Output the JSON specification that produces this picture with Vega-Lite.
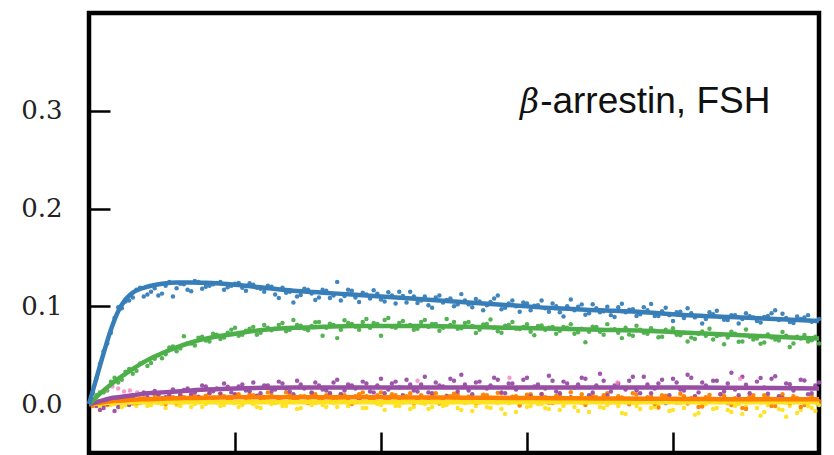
{
  "$schema": "https://vega.github.io/schema/vega-lite/v6.json",
  "autosize": {"type": "none"},
  "width": 730,
  "height": 440,
  "padding": {"left": 89, "top": 13, "right": 15, "bottom": 2},
  "background": "white",
  "config": {
    "view": {"stroke": "black", "strokeWidth": 4.5},
    "axis": {"grid": false, "domain": false, "tickColor": "black", "tickWidth": 2.5, "tickSize": -21, "title": null}
  },
  "datasets": {
    "pts": [
      {"t":0.5,"b":0.026,"g":0.009,"p":-0.002,"o":0.002,"y":-0.001},
      {"t":1,"b":0.054,"g":0.012,"p":-0.004,"o":-0.001,"y":0.002},
      {"t":1.5,"b":0.073,"g":0.023,"p":0.003,"o":0.005,"y":-0.001},
      {"t":2,"b":0.099,"g":0.022,"p":-0.003,"o":0.0015,"y":0.002},
      {"t":2.5,"b":0.105,"g":0.033,"p":0.003,"o":0.007,"y":-0.001},
      {"t":3,"b":0.109,"g":0.031,"p":0.007,"o":0.0005,"y":0.004},
      {"t":3.5,"b":0.119,"g":0.0415,"p":0.002,"o":0.0057,"y":0.001},
      {"t":4,"b":0.112,"g":0.039,"p":0.007,"o":0.003,"y":-0.002},
      {"t":4.5,"b":0.1185,"g":0.0465,"p":0.0135,"o":0.0092,"y":0.003},
      {"t":5,"b":0.113,"g":0.047,"p":0.006,"o":0.0025,"y":0.0},
      {"t":5.5,"b":0.125,"g":0.058,"p":0.0095,"o":0.0077,"y":0.005},
      {"t":6,"b":0.1185,"g":0.054,"p":0.004,"o":0.001,"y":-0.001},
      {"t":6.5,"b":0.1225,"g":0.0695,"p":0.0145,"o":0.0071,"y":0.002},
      {"t":7,"b":0.1155,"g":0.062,"p":0.010,"o":0.0092,"y":-0.003},
      {"t":7.5,"b":0.125,"g":0.068,"p":0.0075,"o":0.0023,"y":0.004},
      {"t":8,"b":0.120,"g":0.065,"p":0.018,"o":0.0085,"y":0.0},
      {"t":8.5,"b":0.1225,"g":0.072,"p":0.0132,"o":0.0056,"y":0.003},
      {"t":9,"b":0.125,"g":0.0665,"p":0.0105,"o":0.0107,"y":-0.002},
      {"t":9.5,"b":0.1195,"g":0.073,"p":0.0177,"o":0.0038,"y":0.004},
      {"t":10,"b":0.123,"g":0.078,"p":0.010,"o":0.009,"y":0.001},
      {"t":10.5,"b":0.119,"g":0.071,"p":0.0201,"o":0.002,"y":-0.001},
      {"t":11,"b":0.1235,"g":0.077,"p":0.0132,"o":0.010,"y":0.004},
      {"t":11.5,"b":0.119,"g":0.071,"p":0.0085,"o":0.008,"y":-0.003},
      {"t":12,"b":0.115,"g":0.081,"p":0.019,"o":0.003,"y":0.003},
      {"t":12.5,"b":0.120,"g":0.0755,"p":0.013,"o":0.009,"y":0.0},
      {"t":13,"b":0.1085,"g":0.081,"p":0.023,"o":0.005,"y":0.005},
      {"t":13.5,"b":0.114,"g":0.0745,"p":0.016,"o":0.012,"y":-0.002},
      {"t":14,"b":0.104,"g":0.086,"p":0.010,"o":0.004,"y":0.002},
      {"t":14.5,"b":0.1115,"g":0.0802,"p":0.020,"o":0.008,"y":-0.004},
      {"t":15,"b":0.117,"g":0.0755,"p":0.007,"o":0.001,"y":0.004},
      {"t":15.5,"b":0.1065,"g":0.0837,"p":0.022,"o":0.010,"y":0.001},
      {"t":16,"b":0.117,"g":0.070,"p":0.015,"o":0.006,"y":-0.001},
      {"t":16.5,"b":0.1085,"g":0.0822,"p":0.011,"o":0.011,"y":0.005},
      {"t":17,"b":0.125,"g":0.0675,"p":0.025,"o":0.003,"y":-0.003},
      {"t":17.5,"b":0.1105,"g":0.0857,"p":0.014,"o":0.009,"y":0.003},
      {"t":18,"b":0.116,"g":0.082,"p":0.019,"o":0.0,"y":0.0},
      {"t":18.5,"b":0.1045,"g":0.076,"p":0.005,"o":0.010,"y":0.006},
      {"t":19,"b":0.112,"g":0.087,"p":0.021,"o":0.008,"y":-0.004},
      {"t":19.5,"b":0.1165,"g":0.083,"p":0.012,"o":0.004,"y":0.002},
      {"t":20,"b":0.107,"g":0.070,"p":0.026,"o":0.012,"y":-0.001},
      {"t":20.5,"b":0.1145,"g":0.088,"p":0.015,"o":0.005,"y":0.004},
      {"t":21,"b":0.103,"g":0.078,"p":0.023,"o":0.009,"y":-0.002},
      {"t":21.5,"b":0.1105,"g":0.085,"p":0.009,"o":0.002,"y":0.003},
      {"t":22,"b":0.115,"g":0.081,"p":0.020,"o":0.011,"y":-0.005},
      {"t":22.5,"b":0.1035,"g":0.077,"p":0.013,"o":0.0058,"y":0.005},
      {"t":23,"b":0.110,"g":0.086,"p":0.028,"o":0.0028,"y":0.0},
      {"t":23.5,"b":0.0985,"g":0.082,"p":0.011,"o":0.0097,"y":-0.003},
      {"t":24,"b":0.111,"g":0.075,"p":0.019,"o":0.0007,"y":0.004},
      {"t":24.5,"b":0.1065,"g":0.087,"p":0.008,"o":0.0086,"y":-0.001},
      {"t":25,"b":0.100,"g":0.084,"p":0.024,"o":0.0106,"y":0.003},
      {"t":25.5,"b":0.1125,"g":0.0775,"p":0.030,"o":0.0035,"y":-0.006},
      {"t":26,"b":0.102,"g":0.084,"p":0.014,"o":0.0075,"y":0.004},
      {"t":26.5,"b":0.1075,"g":0.0728,"p":0.022,"o":0.0015,"y":-0.002},
      {"t":27,"b":0.096,"g":0.0815,"p":0.006,"o":0.0095,"y":0.005},
      {"t":27.5,"b":0.1045,"g":0.0865,"p":0.019,"o":0.0045,"y":-0.004},
      {"t":28,"b":0.111,"g":0.0745,"p":0.025,"o":0.0115,"y":0.001},
      {"t":28.5,"b":0.0985,"g":0.0802,"p":0.011,"o":0.0025,"y":-0.010},
      {"t":29,"b":0.106,"g":0.084,"p":0.021,"o":0.0075,"y":0.004},
      {"t":29.5,"b":0.0945,"g":0.0768,"p":0.003,"o":-0.0015,"y":-0.001},
      {"t":30,"b":0.103,"g":0.0817,"p":0.027,"o":0.0095,"y":-0.003},
      {"t":30.5,"b":0.1005,"g":0.0705,"p":0.018,"o":0.0043,"y":0.005},
      {"t":31,"b":0.106,"g":0.0803,"p":0.010,"o":0.0103,"y":0.0},
      {"t":31.5,"b":0.0945,"g":0.0781,"p":0.029,"o":0.0012,"y":-0.005},
      {"t":32,"b":0.100,"g":0.072,"p":0.013,"o":0.0082,"y":0.003},
      {"t":32.5,"b":0.0895,"g":0.0788,"p":0.023,"o":0.0031,"y":-0.002},
      {"t":33,"b":0.107,"g":0.0817,"p":0.007,"o":0.0121,"y":0.006},
      {"t":33.5,"b":0.0997,"g":0.0735,"p":0.020,"o":0.005,"y":-0.007},
      {"t":34,"b":0.0915,"g":0.0633,"p":0.026,"o":-0.001,"y":0.001},
      {"t":34.5,"b":0.1022,"g":0.0791,"p":0.012,"o":0.009,"y":0.004},
      {"t":35,"b":0.094,"g":0.074,"p":0.031,"o":0.004,"y":-0.003},
      {"t":35.5,"b":0.0995,"g":0.0818,"p":0.009,"o":0.011,"y":-0.001},
      {"t":36,"b":0.089,"g":0.0767,"p":0.019,"o":0.002,"y":0.005},
      {"t":36.5,"b":0.1027,"g":0.0675,"p":0.004,"o":0.0068,"y":-0.009},
      {"t":37,"b":0.0965,"g":0.0713,"p":0.024,"o":-0.0002,"y":0.002},
      {"t":37.5,"b":0.0902,"g":0.0801,"p":0.014,"o":0.0097,"y":-0.002},
      {"t":38,"b":0.099,"g":0.073,"p":0.028,"o":0.0027,"y":0.004},
      {"t":38.5,"b":0.1025,"g":0.0776,"p":0.011,"o":0.0076,"y":-0.004},
      {"t":39,"b":0.090,"g":0.0683,"p":0.021,"o":-0.0034,"y":0.0},
      {"t":39.5,"b":0.0985,"g":0.076,"p":0.001,"o":0.0085,"y":0.005},
      {"t":40,"b":0.085,"g":0.0777,"p":0.026,"o":0.0045,"y":-0.006},
      {"t":40.5,"b":0.0945,"g":0.0703,"p":0.015,"o":0.0105,"y":0.001},
      {"t":41,"b":0.098,"g":0.064,"p":0.030,"o":0.0005,"y":0.004},
      {"t":41.5,"b":0.0887,"g":0.0667,"p":0.008,"o":0.0075,"y":-0.011},
      {"t":42,"b":0.0825,"g":0.0743,"p":0.022,"o":-0.0025,"y":-0.002},
      {"t":42.5,"b":0.094,"g":0.077,"p":0.005,"o":0.0093,"y":0.003},
      {"t":43,"b":0.0955,"g":0.0697,"p":0.024,"o":0.0033,"y":-0.004},
      {"t":43.5,"b":0.0862,"g":0.0613,"p":0.013,"o":0.0082,"y":0.005},
      {"t":44,"b":0.091,"g":0.074,"p":0.032,"o":-0.001,"y":-0.008},
      {"t":44.5,"b":0.0825,"g":0.0637,"p":0.009,"o":0.006,"y":0.0},
      {"t":45,"b":0.093,"g":0.0763,"p":0.0198,"o":-0.005,"y":-0.003},
      {"t":45.5,"b":0.0887,"g":0.066,"p":0.0027,"o":0.009,"y":0.004},
      {"t":46,"b":0.0835,"g":0.0617,"p":0.0267,"o":0.002,"y":-0.012},
      {"t":46.5,"b":0.0902,"g":0.0713,"p":0.0106,"o":0.007,"y":-0.001},
      {"t":47,"b":0.096,"g":0.066,"p":0.0285,"o":-0.002,"y":0.003},
      {"t":47.5,"b":0.0925,"g":0.0737,"p":0.0064,"o":0.010,"y":-0.006},
      {"t":48,"b":0.084,"g":0.0583,"p":0.0203,"o":0.001,"y":-0.002},
      {"t":48.5,"b":0.0897,"g":0.069,"p":0.0032,"o":0.006,"y":-0.009},
      {"t":49,"b":0.0885,"g":0.0707,"p":0.0241,"o":-0.001,"y":0.004},
      {"t":49.5,"b":0.0842,"g":0.0653,"p":0.011,"o":0.008,"y":-0.004},
      {"t":50,"b":0.087,"g":0.062,"p":0.022,"o":0.003,"y":-0.001},
      {"t":0.25,"b":0.012,"g":0.004,"p":0.001,"o":-0.002,"y":0.0},
      {"t":0.75,"b":0.041,"g":0.012,"p":-0.006,"o":0.003,"y":-0.002},
      {"t":1.25,"b":0.062,"g":0.014,"p":0.0,"o":-0.001,"y":0.003},
      {"t":1.75,"b":0.088,"g":0.027,"p":-0.007,"o":0.006,"y":0.0},
      {"t":2.25,"b":0.098,"g":0.025,"p":0.005,"o":0.002,"y":-0.003},
      {"t":2.75,"b":0.106,"g":0.036,"p":-0.001,"o":0.008,"y":0.002},
      {"t":3.25,"b":0.117,"g":0.034,"p":0.004,"o":0.001,"y":-0.002},
      {"t":3.75,"b":0.110,"g":0.043,"p":0.012,"o":0.006,"y":0.003},
      {"t":4.25,"b":0.115,"g":0.042,"p":0.003,"o":0.004,"y":-0.001},
      {"t":4.75,"b":0.111,"g":0.050,"p":0.010,"o":0.009,"y":0.001},
      {"t":5.25,"b":0.121,"g":0.051,"p":0.007,"o":0.0,"y":-0.004},
      {"t":5.75,"b":0.110,"g":0.059,"p":0.015,"o":0.007,"y":0.002},
      {"t":6.25,"b":0.123,"g":0.057,"p":0.009,"o":0.010,"y":-0.002},
      {"t":6.75,"b":0.117,"g":0.062,"p":0.016,"o":0.003,"y":0.004},
      {"t":7.25,"b":0.126,"g":0.060,"p":0.012,"o":0.008,"y":0.0},
      {"t":7.75,"b":0.118,"g":0.069,"p":0.019,"o":0.005,"y":-0.003},
      {"t":8.25,"b":0.121,"g":0.064,"p":0.011,"o":0.011,"y":0.002},
      {"t":8.75,"b":0.124,"g":0.071,"p":0.016,"o":0.002,"y":0.005},
      {"t":9.25,"b":0.117,"g":0.068,"p":0.021,"o":0.008,"y":-0.001},
      {"t":9.75,"b":0.121,"g":0.076,"p":0.012,"o":0.006,"y":0.002},
      {"t":10.25,"b":0.124,"g":0.070,"p":0.018,"o":0.010,"y":-0.003},
      {"t":10.75,"b":0.116,"g":0.075,"p":0.014,"o":0.003,"y":0.003},
      {"t":11.25,"b":0.122,"g":0.079,"p":0.022,"o":0.009,"y":0.0},
      {"t":11.75,"b":0.118,"g":0.073,"p":0.011,"o":0.006,"y":-0.004},
      {"t":12.25,"b":0.121,"g":0.078,"p":0.019,"o":0.012,"y":0.004},
      {"t":12.75,"b":0.112,"g":0.077,"p":0.015,"o":0.002,"y":0.001},
      {"t":13.25,"b":0.119,"g":0.083,"p":0.021,"o":0.007,"y":-0.002},
      {"t":13.75,"b":0.115,"g":0.076,"p":0.013,"o":0.010,"y":0.003},
      {"t":14.25,"b":0.110,"g":0.081,"p":0.024,"o":0.005,"y":-0.005},
      {"t":14.75,"b":0.118,"g":0.077,"p":0.016,"o":0.008,"y":0.002},
      {"t":15.25,"b":0.113,"g":0.080,"p":0.012,"o":0.011,"y":-0.001},
      {"t":15.75,"b":0.109,"g":0.084,"p":0.019,"o":0.003,"y":0.004},
      {"t":16.25,"b":0.116,"g":0.078,"p":0.014,"o":0.009,"y":-0.003},
      {"t":16.75,"b":0.111,"g":0.081,"p":0.022,"o":0.006,"y":0.001},
      {"t":17.25,"b":0.106,"g":0.076,"p":0.010,"o":0.010,"y":0.005},
      {"t":17.75,"b":0.117,"g":0.083,"p":0.020,"o":0.004,"y":-0.002},
      {"t":18.25,"b":0.109,"g":0.079,"p":0.016,"o":0.008,"y":0.002},
      {"t":18.75,"b":0.114,"g":0.084,"p":0.023,"o":0.012,"y":-0.004},
      {"t":19.25,"b":0.108,"g":0.078,"p":0.013,"o":0.005,"y":0.003},
      {"t":19.75,"b":0.113,"g":0.082,"p":0.019,"o":0.009,"y":0.0},
      {"t":20.25,"b":0.105,"g":0.086,"p":0.011,"o":0.003,"y":-0.006},
      {"t":20.75,"b":0.111,"g":0.079,"p":0.021,"o":0.010,"y":0.002},
      {"t":21.25,"b":0.115,"g":0.083,"p":0.017,"o":0.006,"y":-0.002},
      {"t":21.75,"b":0.104,"g":0.080,"p":0.025,"o":0.008,"y":0.004},
      {"t":22.25,"b":0.110,"g":0.076,"p":0.014,"o":0.001,"y":-0.003},
      {"t":22.75,"b":0.106,"g":0.084,"p":0.020,"o":0.009,"y":0.001},
      {"t":23.25,"b":0.101,"g":0.079,"p":0.012,"o":0.006,"y":-0.005},
      {"t":23.75,"b":0.109,"g":0.082,"p":0.022,"o":0.011,"y":0.003},
      {"t":24.25,"b":0.104,"g":0.078,"p":0.018,"o":0.004,"y":-0.002},
      {"t":24.75,"b":0.108,"g":0.081,"p":0.026,"o":0.008,"y":0.002},
      {"t":25.25,"b":0.102,"g":0.077,"p":0.013,"o":0.010,"y":-0.004},
      {"t":25.75,"b":0.106,"g":0.083,"p":0.020,"o":0.005,"y":0.001},
      {"t":26.25,"b":0.099,"g":0.080,"p":0.010,"o":0.007,"y":-0.007},
      {"t":26.75,"b":0.105,"g":0.076,"p":0.023,"o":0.002,"y":0.003},
      {"t":27.25,"b":0.101,"g":0.082,"p":0.016,"o":0.009,"y":-0.003},
      {"t":27.75,"b":0.108,"g":0.078,"p":0.027,"o":0.006,"y":0.002},
      {"t":28.25,"b":0.097,"g":0.073,"p":0.012,"o":0.011,"y":-0.005},
      {"t":28.75,"b":0.103,"g":0.081,"p":0.021,"o":0.004,"y":0.001},
      {"t":29.25,"b":0.100,"g":0.077,"p":0.015,"o":0.008,"y":-0.008},
      {"t":29.75,"b":0.104,"g":0.079,"p":0.025,"o":0.003,"y":0.003},
      {"t":30.25,"b":0.096,"g":0.074,"p":0.008,"o":0.010,"y":-0.002},
      {"t":30.75,"b":0.101,"g":0.080,"p":0.020,"o":0.005,"y":0.0},
      {"t":31.25,"b":0.098,"g":0.076,"p":0.016,"o":0.007,"y":-0.004},
      {"t":31.75,"b":0.103,"g":0.079,"p":0.024,"o":0.001,"y":0.004},
      {"t":32.25,"b":0.094,"g":0.075,"p":0.011,"o":0.009,"y":-0.006},
      {"t":32.75,"b":0.100,"g":0.078,"p":0.021,"o":0.006,"y":0.002},
      {"t":33.25,"b":0.096,"g":0.072,"p":0.017,"o":0.004,"y":-0.003},
      {"t":33.75,"b":0.102,"g":0.077,"p":0.027,"o":0.010,"y":0.001},
      {"t":34.25,"b":0.093,"g":0.074,"p":0.009,"o":0.003,"y":-0.008},
      {"t":34.75,"b":0.098,"g":0.079,"p":0.019,"o":0.007,"y":0.002},
      {"t":35.25,"b":0.095,"g":0.071,"p":0.024,"o":0.009,"y":-0.004},
      {"t":35.75,"b":0.091,"g":0.076,"p":0.013,"o":0.002,"y":0.003},
      {"t":36.25,"b":0.099,"g":0.073,"p":0.021,"o":0.008,"y":-0.002},
      {"t":36.75,"b":0.094,"g":0.078,"p":0.015,"o":0.005,"y":-0.010},
      {"t":37.25,"b":0.097,"g":0.070,"p":0.028,"o":0.011,"y":0.001},
      {"t":37.75,"b":0.092,"g":0.076,"p":0.011,"o":0.003,"y":-0.005},
      {"t":38.25,"b":0.096,"g":0.072,"p":0.020,"o":0.007,"y":0.003},
      {"t":38.75,"b":0.090,"g":0.075,"p":0.016,"o":0.0,"y":-0.003},
      {"t":39.25,"b":0.095,"g":0.069,"p":0.025,"o":0.009,"y":0.002},
      {"t":39.75,"b":0.091,"g":0.074,"p":0.009,"o":0.005,"y":-0.007},
      {"t":40.25,"b":0.094,"g":0.071,"p":0.022,"o":0.002,"y":0.001},
      {"t":40.75,"b":0.088,"g":0.073,"p":0.014,"o":0.008,"y":-0.004},
      {"t":41.25,"b":0.093,"g":0.068,"p":0.027,"o":0.006,"y":0.003},
      {"t":41.75,"b":0.090,"g":0.072,"p":0.012,"o":-0.003,"y":-0.009},
      {"t":42.25,"b":0.087,"g":0.070,"p":0.019,"o":0.007,"y":0.0},
      {"t":42.75,"b":0.092,"g":0.066,"p":0.024,"o":0.004,"y":-0.005},
      {"t":43.25,"b":0.089,"g":0.071,"p":0.010,"o":0.010,"y":0.002},
      {"t":43.75,"b":0.086,"g":0.068,"p":0.021,"o":0.001,"y":-0.006},
      {"t":44.25,"b":0.091,"g":0.072,"p":0.015,"o":0.006,"y":-0.002},
      {"t":44.75,"b":0.087,"g":0.064,"p":0.028,"o":-0.004,"y":-0.010},
      {"t":45.25,"b":0.090,"g":0.069,"p":0.011,"o":0.008,"y":0.002},
      {"t":45.75,"b":0.085,"g":0.067,"p":0.023,"o":0.003,"y":-0.004},
      {"t":46.25,"b":0.089,"g":0.063,"p":0.017,"o":0.009,"y":-0.008},
      {"t":46.75,"b":0.093,"g":0.068,"p":0.026,"o":-0.002,"y":0.001},
      {"t":47.25,"b":0.086,"g":0.065,"p":0.008,"o":0.006,"y":-0.005},
      {"t":47.75,"b":0.088,"g":0.070,"p":0.021,"o":0.002,"y":-0.013},
      {"t":48.25,"b":0.083,"g":0.062,"p":0.014,"o":0.008,"y":0.002},
      {"t":48.75,"b":0.087,"g":0.067,"p":0.025,"o":-0.003,"y":-0.006},
      {"t":49.25,"b":0.091,"g":0.064,"p":0.010,"o":0.005,"y":-0.002},
      {"t":49.75,"b":0.085,"g":0.069,"p":0.019,"o":0.002,"y":-0.007}
    ],
    "pink": [
      {"t":1.2,"v":0.015},{"t":1.6,"v":0.018},{"t":2.0,"v":0.016},{"t":2.4,"v":0.013},{"t":2.8,"v":0.014},{"t":3.3,"v":0.012},
      {"t":22.5,"v":0.024},{"t":28.8,"v":0.027},{"t":36.2,"v":0.022},{"t":44.6,"v":0.026}
    ],
    "fit": [
      {"t":0,"b":0,"g":0,"p":0,"o":0,"y":0},
      {"t":0.5,"b":0.026,"g":0.007,"p":0.002,"o":0.001,"y":0.0005},
      {"t":1,"b":0.052,"g":0.014,"p":0.004,"o":0.002,"y":0.001},
      {"t":1.5,"b":0.076,"g":0.020,"p":0.006,"o":0.003,"y":0.0013},
      {"t":2,"b":0.095,"g":0.026,"p":0.007,"o":0.0035,"y":0.0015},
      {"t":2.5,"b":0.107,"g":0.031,"p":0.008,"o":0.004,"y":0.0017},
      {"t":3,"b":0.114,"g":0.036,"p":0.009,"o":0.0045,"y":0.0018},
      {"t":4,"b":0.120,"g":0.045,"p":0.011,"o":0.005,"y":0.002},
      {"t":5,"b":0.123,"g":0.052,"p":0.012,"o":0.0055,"y":0.002},
      {"t":6,"b":0.1245,"g":0.058,"p":0.013,"o":0.006,"y":0.002},
      {"t":7,"b":0.1245,"g":0.063,"p":0.014,"o":0.0062,"y":0.002},
      {"t":8,"b":0.124,"g":0.067,"p":0.015,"o":0.0065,"y":0.002},
      {"t":10,"b":0.122,"g":0.072,"p":0.016,"o":0.007,"y":0.002},
      {"t":12,"b":0.119,"g":0.076,"p":0.0167,"o":0.007,"y":0.002},
      {"t":14,"b":0.116,"g":0.078,"p":0.017,"o":0.007,"y":0.002},
      {"t":16,"b":0.114,"g":0.079,"p":0.017,"o":0.007,"y":0.002},
      {"t":18,"b":0.112,"g":0.080,"p":0.017,"o":0.007,"y":0.002},
      {"t":20,"b":0.110,"g":0.080,"p":0.017,"o":0.007,"y":0.002},
      {"t":23,"b":0.107,"g":0.080,"p":0.017,"o":0.0068,"y":0.002},
      {"t":26,"b":0.104,"g":0.079,"p":0.017,"o":0.0065,"y":0.002},
      {"t":29,"b":0.101,"g":0.078,"p":0.017,"o":0.0063,"y":0.002},
      {"t":32,"b":0.098,"g":0.077,"p":0.017,"o":0.006,"y":0.002},
      {"t":35,"b":0.096,"g":0.076,"p":0.017,"o":0.0058,"y":0.002},
      {"t":38,"b":0.094,"g":0.075,"p":0.017,"o":0.0055,"y":0.002},
      {"t":41,"b":0.091,"g":0.073,"p":0.017,"o":0.0053,"y":0.002},
      {"t":44,"b":0.089,"g":0.071,"p":0.0168,"o":0.005,"y":0.002},
      {"t":47,"b":0.087,"g":0.069,"p":0.0165,"o":0.005,"y":0.002},
      {"t":50,"b":0.085,"g":0.067,"p":0.016,"o":0.005,"y":0.002}
    ],
    "one": [{}]
  },
  "layer": [
    {
      "data": {"name": "pts"},
      "transform": [{"fold": ["y", "o", "p", "g", "b"], "as": ["s", "v"]}],
      "mark": {"type": "circle", "size": 20, "opacity": 0.95},
      "encoding": {
        "x": {"field": "t", "type": "quantitative", "scale": {"domain": [0, 50], "nice": false, "zero": false},
              "axis": {"values": [10, 20, 30, 40], "labels": false}},
        "y": {"field": "v", "type": "quantitative", "scale": {"domain": [-0.05, 0.4], "nice": false, "zero": false},
              "axis": {"values": [0, 0.1, 0.2, 0.3], "format": ".1f", "labelFont": "DejaVu Serif", "labelFontSize": 26, "labelColor": "#222", "labelPadding": 48}},
        "color": {"field": "s", "type": "nominal", "legend": null,
                  "scale": {"domain": ["b", "g", "p", "o", "y"], "range": ["#377eb8", "#4daf4a", "#984ea3", "#ff7f00", "#ffe21f"]}}
      }
    },
    {
      "data": {"name": "pink"},
      "mark": {"type": "circle", "size": 20, "opacity": 0.8, "color": "#f781bf"},
      "encoding": {
        "x": {"field": "t", "type": "quantitative"},
        "y": {"field": "v", "type": "quantitative"}
      }
    },
    {
      "data": {"name": "fit"},
      "transform": [{"fold": ["y", "o", "p", "g", "b"], "as": ["s", "v"]}],
      "mark": {"type": "line", "strokeWidth": 4.5, "interpolate": "monotone"},
      "encoding": {
        "x": {"field": "t", "type": "quantitative"},
        "y": {"field": "v", "type": "quantitative"},
        "color": {"field": "s", "type": "nominal", "legend": null},
        "order": {"field": "t", "type": "quantitative"}
      }
    },
    {
      "data": {"name": "one"},
      "mark": {"type": "text", "text": "-arrestin, FSH", "font": "Liberation Sans", "fontSize": 37, "align": "left", "baseline": "alphabetic", "color": "#111"},
      "encoding": {
        "x": {"datum": 30.9, "type": "quantitative"},
        "y": {"datum": 0.2977, "type": "quantitative"}
      }
    },
    {
      "data": {"name": "one"},
      "mark": {"type": "text", "text": "β", "font": "DejaVu Serif", "fontStyle": "italic", "fontSize": 33, "align": "right", "baseline": "alphabetic", "color": "#111", "dx": -1},
      "encoding": {
        "x": {"datum": 30.9, "type": "quantitative"},
        "y": {"datum": 0.2977, "type": "quantitative"}
      }
    }
  ]
}
